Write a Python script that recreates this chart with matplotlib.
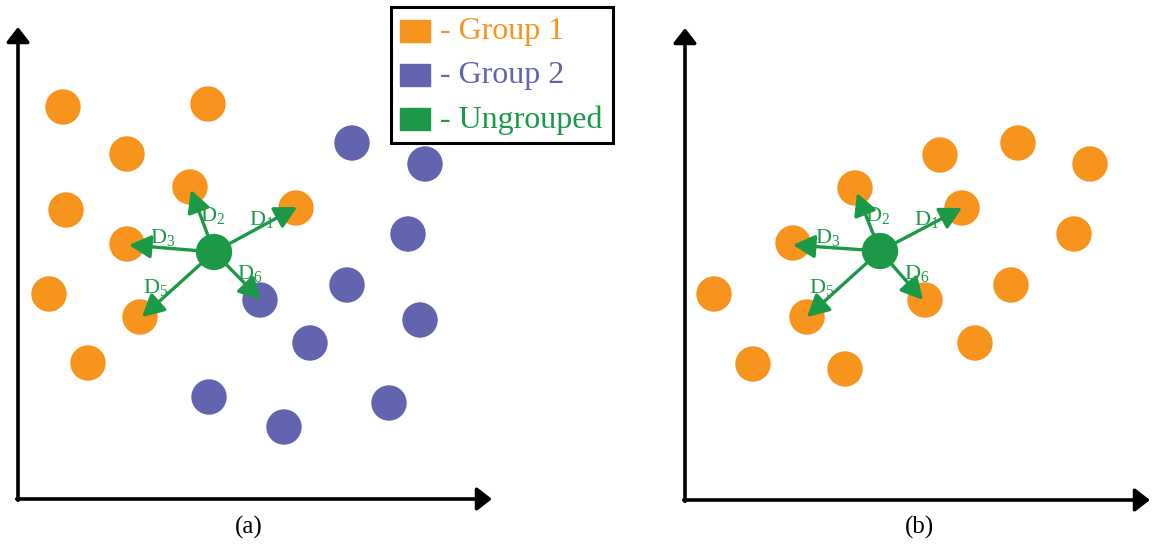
import matplotlib.pyplot as plt

plt.rcParams['font.family'] = ['Liberation Serif', 'DejaVu Serif']
plt.rcParams['mathtext.fontset'] = 'custom'
plt.rcParams['mathtext.rm'] = 'Liberation Serif'
plt.rcParams['mathtext.it'] = 'Liberation Serif:italic'

orange = '#F7941D'
purple = '#6264B0'
green = '#1B9946'

# panel (a) points, picture units (x right, y down)
a_g1_x = [63, 208, 127, 190, 66, 296, 127, 49, 140, 88]
a_g1_y = [107, 104, 154, 187, 210, 208, 244, 294, 317, 363]
a_g2_x = [352, 425, 408, 347, 260, 420, 310, 209, 389, 284]
a_g2_y = [143, 164, 234, 285, 300, 320, 343, 397, 403, 427]
a_un = (214, 252)

# panel (b) points
b_g1_x = [855, 962, 793, 807, 925, 940, 1018, 1090, 1074, 1011, 975, 845, 753, 714]
b_g1_y = [188, 208, 243, 317, 300, 155, 143, 164, 234, 285, 343, 369, 364, 294]
b_un = (880, 251)

# distance arrows: label, tip, label position
a_dist = [('1', (297, 207), (262, 220)),
          ('2', (191, 190), (213, 215)),
          ('3', (129, 245), (163, 237)),
          ('5', (142, 317), (156, 288)),
          ('6', (261, 300), (250, 273))]
b_dist = [('1', (962, 208), (927, 220)),
          ('2', (857, 193), (878, 216)),
          ('3', (793, 245), (828, 237)),
          ('5', (807, 317), (822, 288)),
          ('6', (923, 300), (917, 273))]

legend_labels = ['- Group 1', '- Group 2', '- Ungrouped']
legend_colors = [orange, purple, green]

fig = plt.figure(figsize=(11.53, 5.5), dpi=100)
ax = fig.add_axes([0, 0, 1, 1])
ax.set_xlim(0, 1153)
ax.set_ylim(550, 0)
ax.axis('off')

S = 650

# axes arrows
def axis_arrows(x0, y0, xtip, ytip):
    props = dict(arrowstyle='-|>,head_length=0.45,head_width=0.35', lw=2.6,
                 color='black', shrinkA=0, shrinkB=0, mutation_scale=20)
    ax.annotate('', xy=(x0, ytip), xytext=(x0, y0 + 1.3), arrowprops=props)
    ax.annotate('', xy=(xtip, y0), xytext=(x0 - 1.3, y0), arrowprops=props)

axis_arrows(18, 499, 492, 27)
axis_arrows(685, 500, 1150, 28)

def panel(gx, gy, un, dist):
    ax.scatter(gx, gy, s=S, color=orange, edgecolors='none', zorder=2)
    for lab, tip, lp in dist:
        ax.annotate('', xy=tip, xytext=un,
                    arrowprops=dict(arrowstyle='-|>,head_length=0.6,head_width=0.32',
                                    lw=2.4, color=green, shrinkA=0, shrinkB=0,
                                    mutation_scale=22), zorder=4)
        ax.text(lp[0], lp[1], r'$\mathrm{D}_{%s}$' % lab, color=green,
                fontsize=16, ha='center', va='center', zorder=5)
    ax.scatter([un[0]], [un[1]], s=S * 1.05, color=green, edgecolors='none', zorder=3)

ax.scatter(a_g2_x, a_g2_y, s=S, color=purple, edgecolors='none', zorder=2)
panel(a_g1_x, a_g1_y, a_un, a_dist)
panel(b_g1_x, b_g1_y, b_un, b_dist)

# legend box
ax.add_patch(plt.Rectangle((391, 7), 222, 136, fill=True, facecolor='white',
                           edgecolor='black', lw=2.2, zorder=6))
for i, (lab, c) in enumerate(zip(legend_labels, legend_colors)):
    yc = 31 + i * 44
    ax.add_patch(plt.Rectangle((400, yc - 11), 30, 22, color=c, zorder=7))
    ax.text(440, yc + 1, lab, color=c, fontsize=23, ha='left', va='center', zorder=7)

ax.text(249, 527, '(a)', fontsize=18, ha='center', va='center')
ax.text(919, 527, '(b)', fontsize=18, ha='center', va='center')

fig.savefig('out.png', dpi=100)
